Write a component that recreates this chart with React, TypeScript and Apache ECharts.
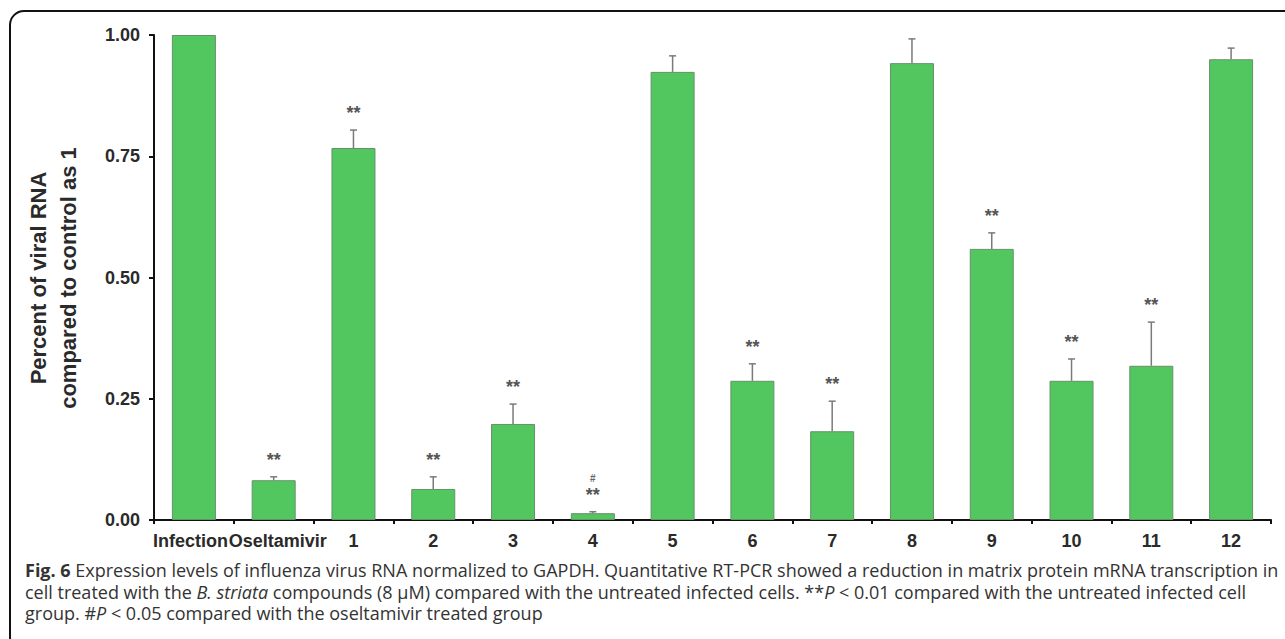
import React, { useEffect, useRef } from "react";
import * as echarts from "echarts";

const categories = ["Infection", "Oseltamivir", "1", "2", "3", "4", "5", "6", "7", "8", "9", "10", "11", "12"];
const means = [1.0, 0.082, 0.767, 0.064, 0.198, 0.014, 0.924, 0.287, 0.183, 0.942, 0.559, 0.287, 0.318, 0.95];
const errors = [0, 0.007, 0.037, 0.025, 0.041, 0.003, 0.033, 0.035, 0.062, 0.05, 0.033, 0.045, 0.09, 0.023];
const sigVsInfection = ["", "**", "**", "**", "**", "**", "", "**", "**", "", "**", "**", "**", ""];
const sigVsOseltamivir = ["", "", "", "", "", "#", "", "", "", "", "", "", "", ""];
const yTicks = [0, 0.25, 0.5, 0.75, 1.0];

const yTitle = ["Percent of viral RNA", "compared to control as 1"];
const captionLines = [
  "{b|Fig. 6} Expression levels of influenza virus RNA normalized to GAPDH. Quantitative RT-PCR showed a reduction in matrix protein mRNA transcription in",
  "cell treated with the {i|B. striata} compounds (8 μM) compared with the untreated infected cells. **{i|P} < 0.01 compared with the untreated infected cell",
  "group. #{i|P} < 0.05 compared with the oseltamivir treated group",
];

export default function App() {
  const ref = useRef<HTMLDivElement>(null);
  useEffect(() => {
    if (!ref.current) return;
    const chart = echarts.init(ref.current, null, { renderer: "svg" });
    const custData = categories.map((_, i) => [i, means[i], errors[i]]);
    const captionFont = "'Open Sans', sans-serif";
    const capSize = 18;
    chart.setOption({
      animation: false,
      backgroundColor: "#ffffff",
      grid: { left: 154, right: 14, top: 35, bottom: 119, containLabel: false },
      xAxis: {
        type: "category",
        data: categories,
        axisLine: { lineStyle: { color: "#111", width: 2 } },
        axisTick: { show: true, length: 4, lineStyle: { color: "#111", width: 2 } },
        axisLabel: {
          interval: 0,
          margin: 12,
          color: "#2a2a2a",
          fontFamily: "Arial, 'Liberation Sans', sans-serif",
          fontWeight: "bold",
          fontSize: 18,
          formatter: (v: string) => (v === "Infection" ? "{l|" + v + "}" : v === "Oseltamivir" ? "{r|" + v + "}" : v),
          rich: {
            l: { padding: [0, 7, 0, 0], fontSize: 18, fontWeight: "bold", color: "#2a2a2a", fontFamily: "Arial, 'Liberation Sans', sans-serif" },
            r: { padding: [0, 0, 0, 8], fontSize: 18, fontWeight: "bold", color: "#2a2a2a", fontFamily: "Arial, 'Liberation Sans', sans-serif" },
          },
        },
      },
      yAxis: {
        type: "value",
        min: yTicks[0],
        max: yTicks[yTicks.length - 1],
        interval: 0.25,
        splitLine: { show: false },
        axisLine: { show: true, lineStyle: { color: "#111", width: 2 } },
        axisTick: { show: true, length: 5, lineStyle: { color: "#111", width: 2 } },
        axisLabel: {
          margin: 14,
          color: "#2a2a2a",
          fontFamily: "Arial, 'Liberation Sans', sans-serif",
          fontWeight: "bold",
          fontSize: 18,
          formatter: (v: number) => v.toFixed(2),
        },
      },
      series: [
        {
          type: "bar",
          data: means,
          barWidth: 44,
          itemStyle: { color: "#52c75f", borderColor: "#66906a", borderWidth: 1 },
          z: 2,
        },
        {
          type: "custom",
          data: custData,
          z: 3,
          renderItem: (params: any, api: any) => {
            const idx = api.value(0);
            const m = api.value(1);
            const e = api.value(2);
            const base = api.coord([idx, m]);
            const top = api.coord([idx, m + e]);
            const children: any[] = [];
            if (e > 0) {
              children.push({
                type: "line",
                shape: { x1: base[0], y1: base[1], x2: top[0], y2: top[1] },
                style: { stroke: "#7a7a7a", lineWidth: 1.5 },
              });
              children.push({
                type: "line",
                shape: { x1: top[0] - 3.5, y1: top[1], x2: top[0] + 3.5, y2: top[1] },
                style: { stroke: "#7a7a7a", lineWidth: 1.5 },
              });
            }
            const s1 = sigVsInfection[idx];
            const s2 = sigVsOseltamivir[idx];
            if (s1) {
              children.push({
                type: "text",
                style: {
                  text: s1,
                  x: top[0],
                  y: top[1] - 8,
                  align: "center",
                  verticalAlign: "bottom",
                  fontSize: 18,
                  fontWeight: "bold",
                  fontFamily: "Arial, 'Liberation Sans', sans-serif",
                  fill: "#555",
                },
              });
            }
            if (s2) {
              children.push({
                type: "text",
                style: {
                  text: s2,
                  x: top[0],
                  y: top[1] - 28,
                  align: "center",
                  verticalAlign: "bottom",
                  fontSize: 10,
                  fontWeight: "bold",
                  fontFamily: "Arial, 'Liberation Sans', sans-serif",
                  fill: "#666",
                },
              });
            }
            return { type: "group", children };
          },
        },
      ],
      graphic: [
        {
          type: "rect",
          shape: { x: 10, y: 11, width: 1300, height: 640, r: 14 },
          style: { fill: "none", stroke: "#111", lineWidth: 2 },
          silent: true,
        },
        {
          type: "text",
          x: 53,
          y: 278,
          rotation: Math.PI / 2,
          style: {
            text: yTitle.join("\n"),
            align: "center",
            verticalAlign: "middle",
            lineHeight: 30,
            fontSize: 22,
            fontWeight: "bold",
            fontFamily: "Arial, 'Liberation Sans', sans-serif",
            fill: "#2a2a2a",
          },
        },
        ...captionLines.map((t, i) => ({
          type: "text",
          x: 25,
          y: [570, 591.5, 613][i],
          style: {
            text: t,
            align: "left",
            verticalAlign: "middle",
            fontSize: capSize,
            fontFamily: captionFont,
            fill: "#333",
            rich: {
              b: { fontWeight: "bold", fontSize: capSize, fontFamily: captionFont, fill: "#333" },
              i: { fontStyle: "italic", fontSize: capSize, fontFamily: captionFont, fill: "#333" },
            },
          },
        })),
      ],
    });
    return () => chart.dispose();
  }, []);
  return <div ref={ref} style={{ position: "absolute", left: 0, top: 0, width: 1285, height: 639 }} />;
}
